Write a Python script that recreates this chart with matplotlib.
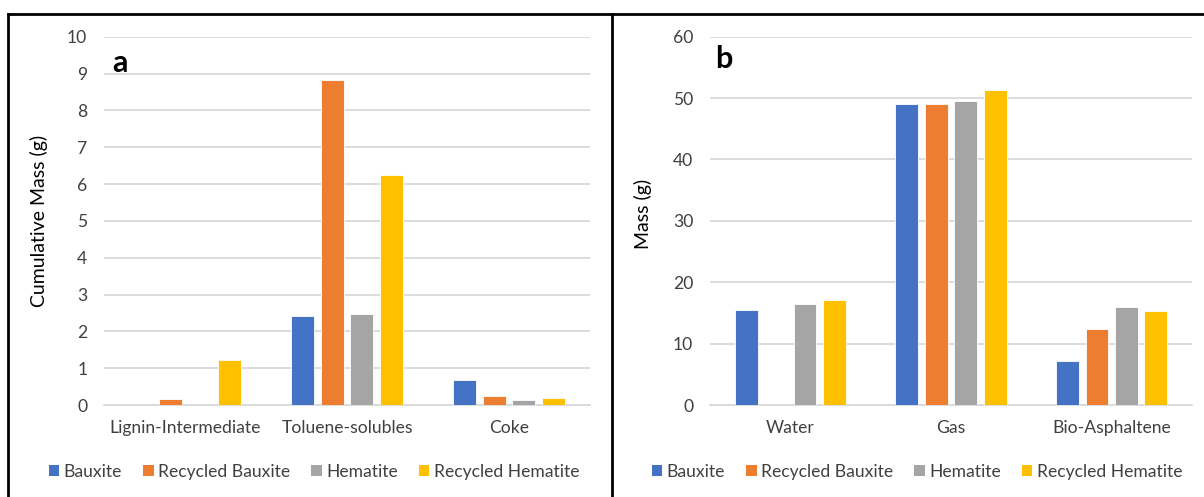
import matplotlib
matplotlib.use("Agg")
import matplotlib.pyplot as plt
import numpy as np
from matplotlib.lines import Line2D
from matplotlib.patches import Patch

plt.rcParams['font.family'] = ['Lato', 'DejaVu Sans']

# Series names and colours (Office palette)
series = ["Bauxite", "Recycled Bauxite", "Hematite", "Recycled Hematite"]
colors = ["#4472C4", "#ED7D31", "#A5A5A5", "#FFC000"]

# Panel a: cumulative mass of liquid/solid products
cats_a = ["Lignin-Intermediate", "Toluene-solubles", "Coke"]
bauxite_a = [0.0, 2.41, 0.69]
rec_bauxite_a = [0.16, 8.83, 0.24]
hematite_a = [0.0, 2.47, 0.14]
rec_hematite_a = [1.22, 6.25, 0.19]

# Panel b: product mass
cats_b = ["Water", "Gas", "Bio-Asphaltene"]
bauxite_b = [15.5, 49.1, 7.2]
rec_bauxite_b = [0.0, 49.0, 12.3]
hematite_b = [16.5, 49.5, 16.0]
rec_hematite_b = [17.1, 51.3, 15.3]

W, H = 1204, 497
fig = plt.figure(figsize=(W / 100, H / 100), dpi=100)

y0, y1 = 405, 36.7
ax_a = fig.add_axes([104 / W, 1 - y0 / H, 486 / W, (y0 - y1) / H])
ax_b = fig.add_axes([710 / W, 1 - y0 / H, 482 / W, (y0 - y1) / H])

step = 0.183
width = 0.142
fs = 12.6


def draw_panel(ax, cats, data, ymax, ystep, ylabel, letter, lx, ly):
    x = np.arange(len(cats)) + 0.5
    for i, (vals, c) in enumerate(zip(data, colors)):
        ax.bar(x + (i - 1.5) * step, vals, width=width, color=c,
               edgecolor="white", linewidth=0.6, zorder=3)
    ax.set_xlim(0, len(cats))
    ax.set_ylim(0, ymax)
    ax.set_yticks(np.arange(0, ymax + ystep / 2, ystep))
    ax.set_xticks(x)
    ax.set_xticklabels(cats)
    ax.yaxis.grid(True, color="#D9D9D9", linewidth=1.3, zorder=0)
    ax.set_axisbelow(True)
    for s in ["top", "right", "left"]:
        ax.spines[s].set_visible(False)
    ax.spines["bottom"].set_color("#D9D9D9")
    ax.spines["bottom"].set_linewidth(1.3)
    ax.tick_params(length=0, labelsize=fs, colors="#404040")
    ax.tick_params(axis="y", pad=12)
    ax.tick_params(axis="x", pad=11)
    ax.set_ylabel(ylabel, fontsize=14, color="black")
    ax.text(lx, ly, letter, transform=ax.transAxes,
            fontsize=22, fontweight="bold", va="center", ha="left")


draw_panel(ax_a, cats_a, [bauxite_a, rec_bauxite_a, hematite_a, rec_hematite_a],
           10, 1, "Cumulative Mass (g)", "a", 0.017, 0.928)
draw_panel(ax_b, cats_b, [bauxite_b, rec_bauxite_b, hematite_b, rec_hematite_b],
           60, 10, "Mass (g)", "b", 0.011, 0.94)
ax_a.yaxis.set_label_coords(-(104 - 48) / 486, 0.5)
ax_b.yaxis.set_label_coords(-(710 - 652) / 482, 0.52)

handles = [Patch(facecolor=c, edgecolor="none") for c in colors]
for cx in (314, 917):
    fig.legend(handles, series, loc="center", bbox_to_anchor=(cx / W, 1 - 472 / H),
               ncol=4, frameon=False, fontsize=fs, handlelength=0.6,
               handleheight=0.6, handletextpad=0.25, columnspacing=1.2,
               labelcolor="#404040", borderpad=0, borderaxespad=0)

# Panel frame lines
lw = 2.0
fig.add_artist(Line2D([8 / W, 1], [1 - 13.5 / H, 1 - 13.5 / H], color="black", lw=lw))
fig.add_artist(Line2D([8 / W, 8 / W], [0, 1 - 13.5 / H], color="black", lw=lw))
fig.add_artist(Line2D([611.5 / W, 611.5 / W], [0, 1 - 13.5 / H], color="black", lw=lw))

fig.savefig("out.png", dpi=100)
